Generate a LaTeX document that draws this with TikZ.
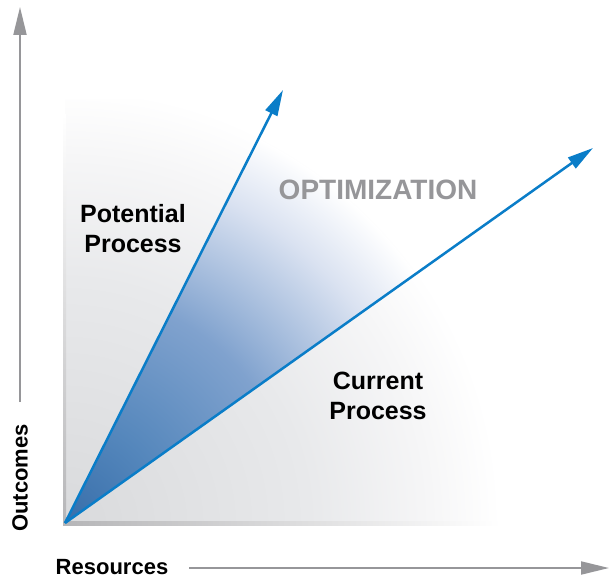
\documentclass[tikz,border=0pt]{standalone}
\usepackage{fontspec}
\setmainfont{Liberation Sans}
\usetikzlibrary{arrows.meta}
\definecolor{axisgray}{RGB}{150,150,153}
\definecolor{procblue}{RGB}{10,125,200}
\definecolor{bgdark}{RGB}{217,218,220}
\definecolor{bgmid}{RGB}{232,233,235}
\definecolor{bglight}{RGB}{246,246,247}
\definecolor{wedgedark}{RGB}{55,110,170}
\definecolor{wedgemid}{RGB}{85,135,188}
\definecolor{wedgesoft}{RGB}{128,162,206}
\definecolor{wedgelight}{RGB}{218,226,241}
\pgfdeclareradialshading{bgshade}{\pgfpoint{0bp}{0bp}}{color(0bp)=(bgdark); color(14bp)=(bgmid); color(21bp)=(bglight); color(25bp)=(white); color(50bp)=(white)}
\pgfdeclareradialshading{wedgeshade}{\pgfpoint{0bp}{0bp}}{color(0bp)=(wedgedark); color(6bp)=(wedgemid); color(13.5bp)=(wedgesoft); color(21bp)=(wedgelight); color(25bp)=(white); color(50bp)=(white)}
\begin{document}
\begin{tikzpicture}[x=1pt,y=-1pt,
	axis/.style={draw=axisgray,line width=2pt,-{Triangle[length=28pt,width=13pt]}},
	process/.style={draw=procblue,line width=2.5pt,-{Triangle[length=26pt,width=13pt]}},
	proctext/.style={font=\bfseries\fontsize{25}{30}\selectfont,align=center,inner sep=0pt},
	axistext/.style={font=\bfseries\fontsize{22}{26}\selectfont,inner sep=0pt}]
\useasboundingbox (0,0) rectangle (610,580);
\coordinate (O) at (65,523);
\coordinate (pot) at (283,90);
\coordinate (cur) at (593,148);
\coordinate (ybot) at (20,402);
\coordinate (ytop) at (20,7);
\coordinate (xleft) at (189,568);
\coordinate (xright) at (609,568);
% grey field
\begin{scope}
\clip (65,100) rectangle (600,525);
\shade[shading=bgshade] (O) circle (435);
\end{scope}
\shade[left color=axisgray!70,right color=white] (65,521) rectangle (500,525);
\shade[bottom color=axisgray!70,top color=white] (63,115) rectangle (66,525);
% optimization wedge
\begin{scope}
\clip (O) -- (pot) -- (cur) -- cycle;
\shade[shading=wedgeshade] (O) circle (430);
\end{scope}
\draw[process] (O) -- (pot);
\draw[process] (O) -- (cur);
\draw[axis] (ybot) -- (ytop);
\draw[axis] (xleft) -- (xright);
\node[proctext] (potential) at (133,229) {Potential\\Process};
\node[proctext,text=axisgray,font=\bfseries\fontsize{28}{30}\selectfont] (optim) at (378,190) {OPTIMIZATION};
\node[proctext] (current) at (378,396) {Current\\Process};
\node[axistext,rotate=90] (outcomes) at (20,478) {Outcomes};
\node[axistext] (resources) at (112,567) {Resources};
\end{tikzpicture}
\end{document}
